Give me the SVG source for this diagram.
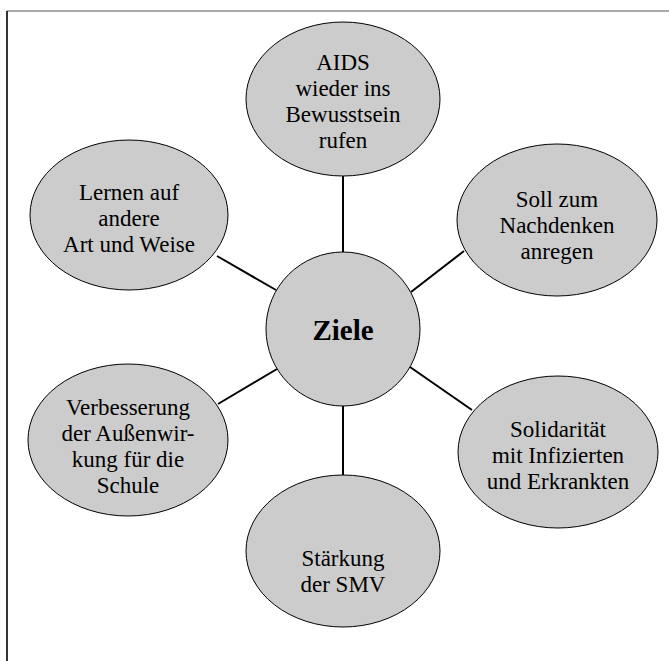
<svg xmlns="http://www.w3.org/2000/svg" width="669" height="661" viewBox="0 0 669 661">
<style>
.n{fill:#cccccc;stroke:#000;stroke-width:1}
.t{font-size:23px;fill:#000;text-anchor:middle}
.b{font-size:29px;font-weight:bold;fill:#000;text-anchor:middle}
.c line{stroke:#000;stroke-width:2}
</style>
<rect width="669" height="661" fill="#fff"/>
<line x1="7" y1="11" x2="669" y2="11" stroke="#aaaaaa" stroke-width="2"/>
<line x1="7" y1="11" x2="7" y2="661" stroke="#333333" stroke-width="2"/>
<g class="c" id="connectors">
<line x1="343" y1="175" x2="343" y2="252"/>
<line x1="343" y1="406" x2="343" y2="476"/>
<line x1="217" y1="256" x2="276" y2="290"/>
<line x1="464" y1="251" x2="411" y2="292"/>
<line x1="218" y1="404" x2="277" y2="369"/>
<line x1="472" y1="410" x2="410" y2="367"/>
</g>
<g font-family="'Liberation Serif', 'Times New Roman', serif">
<g id="center">
<circle class="n" cx="343" cy="329" r="77"/>
<text class="b" x="343" y="340">Ziele</text>
</g>
<g id="aids">
<ellipse class="n" cx="343" cy="99" rx="97" ry="77"/>
<text class="t" x="343" y="70">AIDS</text>
<text class="t" x="343" y="96">wieder ins</text>
<text class="t" x="343" y="122">Bewusstsein</text>
<text class="t" x="343" y="148">rufen</text>
</g>
<g id="lernen">
<ellipse class="n" cx="129" cy="215" rx="99" ry="75"/>
<text class="t" x="129" y="200">Lernen auf</text>
<text class="t" x="129" y="226">andere</text>
<text class="t" x="129" y="252">Art und Weise</text>
</g>
<g id="soll">
<ellipse class="n" cx="557" cy="220" rx="100" ry="76"/>
<text class="t" x="557" y="207">Soll zum</text>
<text class="t" x="557" y="233">Nachdenken</text>
<text class="t" x="557" y="259">anregen</text>
</g>
<g id="verbesserung">
<ellipse class="n" cx="128" cy="440" rx="100" ry="76"/>
<text class="t" x="128" y="415">Verbesserung</text>
<text class="t" x="128" y="441">der Außenwir-</text>
<text class="t" x="128" y="467">kung für die</text>
<text class="t" x="128" y="493">Schule</text>
</g>
<g id="solidaritaet">
<ellipse class="n" cx="558" cy="452" rx="100" ry="76"/>
<text class="t" x="558" y="437">Solidarität</text>
<text class="t" x="558" y="463">mit Infizierten</text>
<text class="t" x="558" y="489">und Erkrankten</text>
</g>
<g id="staerkung">
<ellipse class="n" cx="343" cy="551" rx="97" ry="76"/>
<text class="t" x="343" y="566">Stärkung</text>
<text class="t" x="343" y="592">der SMV</text>
</g>
</g>
</svg>
